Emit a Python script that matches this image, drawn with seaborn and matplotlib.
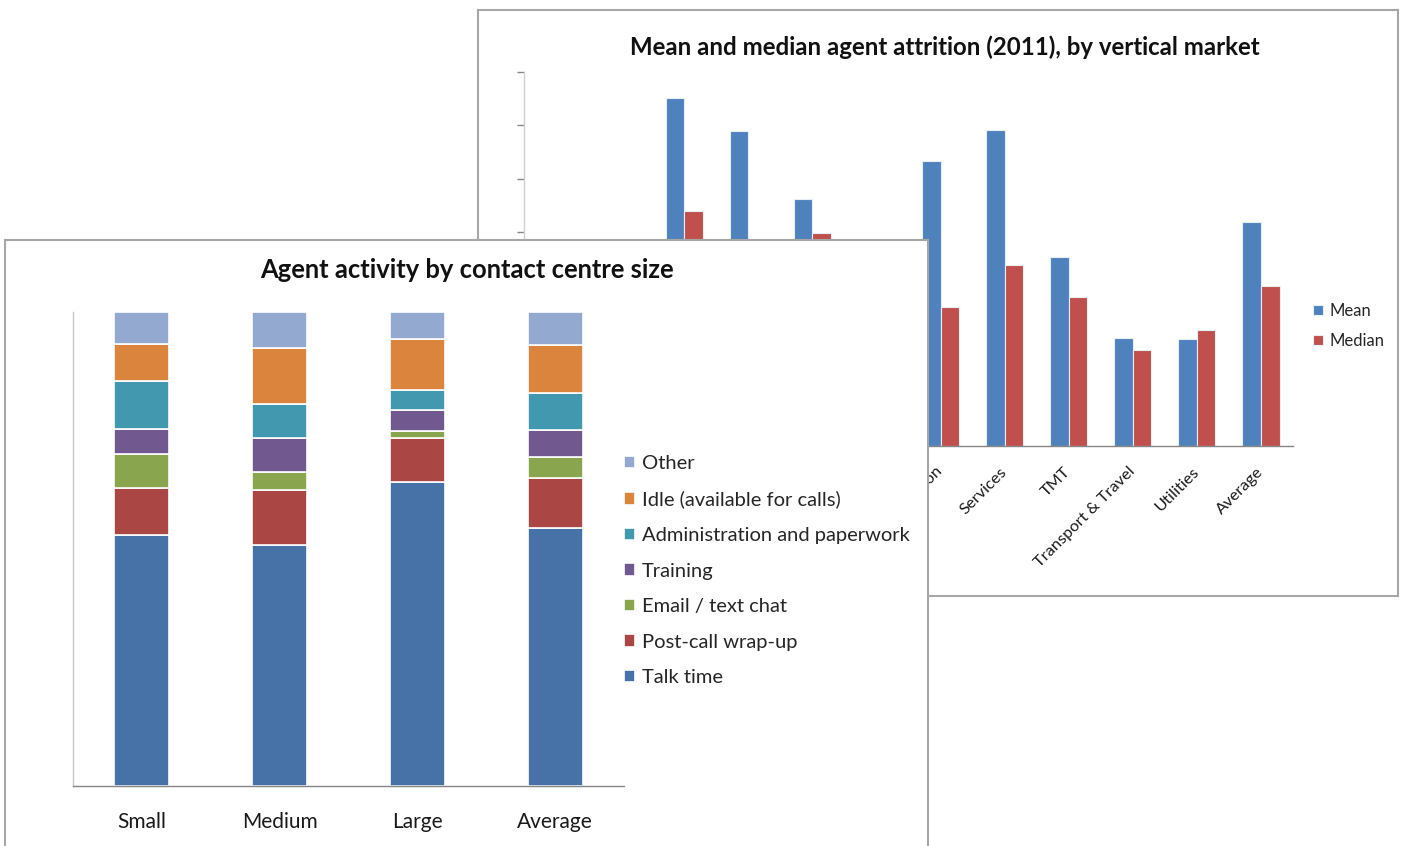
import numpy as np
import pandas as pd
import matplotlib
matplotlib.use("Agg")
import matplotlib.pyplot as plt
import seaborn as sns

# ---------------- data ----------------
markets = ["Finance", "Housing", "Insurance", "Manufacturing", "Outsourcing",
           "Public Sector", "Retail & Distribution", "Services", "TMT",
           "Transport & Travel", "Utilities", "Average"]
mean_attr = [14.0, 12.0, 32.6, 29.5, 23.1, 16.0, 26.7, 29.6, 17.7, 10.1, 10.0, 21.0]
median_attr = [10.0, 9.0, 22.0, 16.0, 19.9, 12.0, 13.0, 16.9, 13.9, 9.0, 10.9, 15.0]

sizes = ["Small", "Medium", "Large", "Average"]
activities = ["Talk time", "Post-call wrap-up", "Email / text chat", "Training",
              "Administration and paperwork", "Idle (available for calls)", "Other"]
talk_time = [53.0, 50.8, 64.1, 54.4]
wrap_up = [9.9, 11.6, 9.3, 10.5]
email_chat = [7.2, 3.8, 1.5, 4.6]
training = [5.3, 7.2, 4.4, 5.7]
admin = [10.1, 7.2, 4.2, 7.8]
idle = [7.8, 11.8, 10.8, 10.1]
other = [6.7, 7.6, 5.7, 6.9]

attr_colors = ["#4F81BD", "#C0504D"]
act_colors = ["#4672A8", "#AA4643", "#89A54E", "#71588F", "#4198AF", "#DB843D", "#93A9CF"]

# ---------------- style ----------------
sns.set_theme(style="white")
plt.rcParams["font.family"] = ["Lato", "DejaVu Sans"]

W, H = 1402, 846
fig = plt.figure(figsize=(W / 100, H / 100), dpi=100)
fig.patch.set_facecolor("white")


def frac(x0, y0, x1, y1):
    return [x0 / W, 1 - y1 / H, (x1 - x0) / W, (y1 - y0) / H]


def panel(rect, z):
    p = fig.add_axes(rect, zorder=z)
    p.set_facecolor("white")
    p.set_xticks([])
    p.set_yticks([])
    for s in p.spines.values():
        s.set_color("#A6A6A6")
        s.set_linewidth(1.5)
    return p

axis_gray = "#868686"

# ---------------- back panel: attrition ----------------
panel(frac(478, 10, 1398, 596), 1)
ax1 = fig.add_axes(frac(524, 72, 1293, 446), zorder=2)
ax1.patch.set_alpha(0)

df_attr = pd.DataFrame({
    "Market": markets * 2,
    "Measure": ["Mean"] * len(markets) + ["Median"] * len(markets),
    "Value": mean_attr + median_attr,
})
sns.barplot(data=df_attr, x="Market", y="Value", hue="Measure",
            palette=attr_colors, width=0.58, saturation=1,
            edgecolor="#E8EEF6", linewidth=0.8, ax=ax1)
ax1.set_xlim(-0.5, len(markets) - 0.5)
ax1.set_ylim(0, 35)
ax1.set_yticks(np.arange(0, 36, 5))
ax1.set_yticklabels([])
ax1.set_xlabel("")
ax1.set_ylabel("")
ax1.set_xticks(np.arange(len(markets)))
ax1.set_xticklabels(markets, rotation=45, ha="right", va="center",
                    rotation_mode="anchor", fontsize=11.8, color="#1a1a1a")
ax1.set_xticks(np.arange(-0.5, len(markets), 1), minor=True)
ax1.tick_params(axis="x", which="major", length=0, pad=17)
ax1.tick_params(axis="x", which="minor", length=6, width=1, color=axis_gray, direction="out")
ax1.tick_params(axis="y", which="major", length=5, width=1, color=axis_gray, direction="out", left=True)
for s in ["top", "right"]:
    ax1.spines[s].set_visible(False)
for s in ["left", "bottom"]:
    ax1.spines[s].set_color(axis_gray)
    ax1.spines[s].set_linewidth(1)
ax1.spines["left"].set_color("#D0D0D0")
ax1.legend(loc="upper left", bbox_to_anchor=(1298 / W, 1 - 288 / H),
           bbox_transform=fig.transFigure, frameon=False, fontsize=12,
           handlelength=0.6, handleheight=0.6, handletextpad=0.4, labelspacing=0.83)
fig.text(945 / W, 1 - 47 / H, "Mean and median agent attrition (2011), by vertical market",
         ha="center", va="center", fontsize=17.3, fontweight="bold", color="#111111", zorder=3)

# ---------------- front panel: agent activity ----------------
panel([5 / W, -0.01, 923 / W, (H - 240) / H + 0.01], 3)
ax2 = fig.add_axes(frac(73, 312, 624, 786), zorder=4)
ax2.patch.set_alpha(0)

df_act = pd.DataFrame({
    "Size": sizes,
    activities[0]: talk_time,
    activities[1]: wrap_up,
    activities[2]: email_chat,
    activities[3]: training,
    activities[4]: admin,
    activities[5]: idle,
    activities[6]: other,
})
xpos = np.arange(len(sizes))
bottom = np.zeros(len(sizes))
handles = []
for act, col in zip(activities, act_colors):
    vals = df_act[act].to_numpy()
    b = ax2.bar(xpos, vals, bottom=bottom, width=0.4, color=col,
                edgecolor="white", linewidth=1.2, label=act)
    handles.append(b)
    bottom = bottom + vals
ax2.set_xlim(-0.5, len(sizes) - 0.5)
ax2.set_ylim(0, 100)
ax2.set_yticks([])
ax2.set_xticks(xpos)
ax2.set_xticklabels(sizes, fontsize=15, color="#1a1a1a")
ax2.set_xticks(np.arange(-0.5, len(sizes), 1), minor=True)
ax2.tick_params(axis="x", which="major", length=0, pad=19)
ax2.tick_params(axis="x", which="minor", length=7, width=1, color=axis_gray, direction="out")
for s in ["top", "right"]:
    ax2.spines[s].set_visible(False)
ax2.spines["left"].set_color("#C8C8C8")
ax2.spines["bottom"].set_color(axis_gray)
ax2.spines["left"].set_linewidth(1)
ax2.spines["bottom"].set_linewidth(1)
ax2.legend(handles[::-1], activities[::-1], loc="upper left",
           bbox_to_anchor=(606 / W, 1 - 437 / H), bbox_transform=fig.transFigure,
           frameon=False, fontsize=14.5, handlelength=0.55, handleheight=0.55,
           handletextpad=0.35, labelspacing=0.92)
fig.text(467 / W, 1 - 270 / H, "Agent activity by contact centre size",
         ha="center", va="center", fontsize=18.4, fontweight="bold", color="#111111", zorder=5)

fig.savefig("out.png", dpi=100, facecolor="white")
